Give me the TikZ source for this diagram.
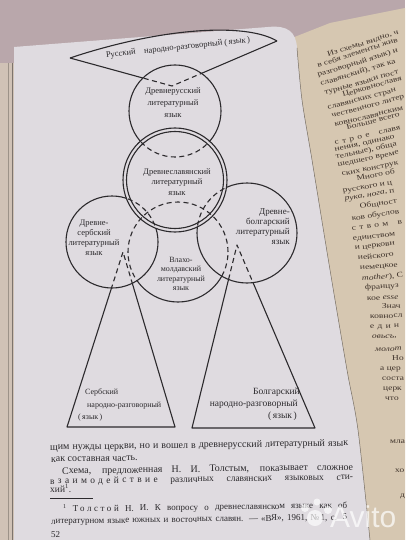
\documentclass[tikz,border=0pt]{standalone}
\usepackage{fontspec}
\setmainfont{Liberation Serif}
\newfontfamily\spaced[LetterSpace=35]{Liberation Serif}
\newfontfamily\spacednote[LetterSpace=28]{Liberation Serif}
\newfontfamily\logofont{Liberation Sans}
\usepackage{graphicx}
\usetikzlibrary{positioning}

\definecolor{fabric}{HTML}{B9A7AB}
\definecolor{leftpage}{HTML}{DFDBE0}
\definecolor{rightpage}{HTML}{D6C7B1}
\definecolor{stack}{HTML}{D0C2B6}
\definecolor{ink}{HTML}{2C2A2D}
\definecolor{warmink}{HTML}{3D3129}

% radii of the language circles
\newcommand{\rRus}{46}
\newcommand{\rSlOut}{52}
\newcommand{\rSlIn}{48.5}
\newcommand{\rSerb}{46}
\newcommand{\rBolg}{50}
\newcommand{\rVlah}{50}
% keep only what lies outside a circle (inside an even odd scope)
\newcommand{\cutaway}[2]{\clip (-20,20) rectangle (430,-560) (#1) circle (#2);}

\tikzset{
  solidline/.style={draw=ink, line width=1.1pt, line join=round},
  dashline/.style={solidline, dash pattern=on 5pt off 3.5pt},
  langname/.style={text=ink, font=\fontsize{8.5}{10.5}\selectfont, align=center, inner sep=0pt},
  textline/.style={text=ink, font=\fontsize{10}{12}\selectfont, anchor=base west, inner sep=0pt, rotate=0.8},
  noteline/.style={textline, font=\fontsize{9}{10}\selectfont},
  rightline/.style={text=warmink, font=\fontsize{9.5}{12}\selectfont, anchor=base west, inner sep=0pt}
}

\begin{document}
\begin{tikzpicture}[x=1pt, y=1pt]

    \useasboundingbox (0,0) rectangle (405,-540);

    % cloth, right page, left page
    \fill[fabric] (0,0) rectangle (405,-540);
    \fill[rightpage] (292,-38) -- (330,-23) -- (405,-8) -- (405,-540) -- (360,-540) -- cycle;
    \foreach \x/\y/\ang/\txt [count=\i] in {
        328/57/18/{Из схемы видно, ч},
        318/68/18/{в себя элементы жив},
        318/77/17/{разговорный язык) и},
        321/86/17/{славянский), так ка},
        325/95/16/{турные языки пост},
        343/97/16/{Церковнославя},
        328/110/15/{славянских стран},
        332/118/15/{чественного литер},
        335/127/14/{ковнославянским},
        347/130/14/{Больше всего},
        335/145/13/{{\spaced строе}\quad славя},
        335/152/13/{нения, одинако},
        336/159/12/{тельные), обща},
        338/167/12/{шедшего време},
        342/176/11/{ских конструк},
        357/181/11/{Много об},
        343/193/10/{русского и ц},
        345/201/10/{\textit{рука, нога,} п},
        360/209/9/{Общност},
        352/221/9/{ков обуслов},
        352/231/8/{{\spaced ством}\quad в},
        353/241/7/{единством},
        355/250/7/{и церковн},
        358/260/6/{нейского},
        360/270/5/{немецкое},
        362/281/5/{\textit{mother}), С},
        365/290/4/{француз},
        367/301/4/{кое \textit{esse}},
        382/309/3/{Знач},
        370/319/3/{ковносл},
        370/329/3/{{\spaced един}},
        372/339/3/{\textit{овьсъ,}},
        375/352/3/{\textit{молот}},
        392/361/2/{Но},
        380/371/2/{а цер},
        382/381/2/{соста},
        383/391/2/{церк},
        385/401/2/{что},
        390/444/2/{мла},
        395/473/2/{хо},
        400/498/2/{д}}
        \node[rightline, rotate=\ang] (rline\i) at (\x,-\y) {\scalebox{1}[0.78]{\txt}};
    \fill[leftpage] (14,-47) -- (268,-27) .. controls (288,-25) and (296,-32) .. (297,-48)
        -- plot[smooth] coordinates {(297,-48) (302,-100) (312,-160) (330,-270) (347,-370) (358,-430) (370,-540)}
        -- (14,-540) -- cycle;
    \draw[rightpage!55!black, line width=0.5pt] plot[smooth] coordinates {(297,-48) (302,-100) (312,-160) (330,-270) (347,-370) (358,-430) (370,-540)};
    \fill[stack] (0,-63) rectangle (14,-540);
    \draw[stack!75!black, line width=1pt] (8,-63) -- (8,-540);
    \draw[stack!60!black, line width=0.6pt] (12.5,-63) -- (12.5,-540);

    % centres of the language circles
    \coordinate (cRus) at (175,-111);
    \coordinate (cSl) at (175,-180);
    \coordinate (cSerb) at (112,-242);
    \coordinate (cBolg) at (247,-233);
    \coordinate (cVlah) at (178,-252);
    % corners of the wedge and of the two triangles
    \coordinate (wL) at (70,-58);
    \coordinate (wR) at (277,-41);
    \coordinate (wT) at (172,-86);
    \coordinate (sT) at (123,-252);
    \coordinate (sL) at (67,-427);
    \coordinate (sR) at (175,-427);
    \coordinate (bT) at (237,-245);
    \coordinate (bL) at (192,-428);
    \coordinate (bR) at (315,-428);

    % Russian vernacular
    \begin{scope}
        \clip (cRus) circle (\rRus);
        \draw[dashline] (wL) -- (wT) -- (wR);
    \end{scope}
    \begin{scope}[even odd rule]
        \cutaway{cRus}{\rRus}
        \draw[solidline] (wL) -- (wT) -- (wR);
    \end{scope}
    \draw[solidline] (wL) .. controls (160,-28) and (245,-22) .. (wR);

    % circles behind the Old Church Slavonic one
    \begin{scope}
        \clip (cSl) circle (\rSlOut);
        \draw[dashline] (cRus) circle (\rRus);
        \draw[dashline] (cSerb) circle (\rSerb);
        \draw[dashline] (cBolg) circle (\rBolg);
    \end{scope}
    \begin{scope}[even odd rule]
        \cutaway{cSl}{\rSlOut}
        \draw[solidline] (cRus) circle (\rRus);
        \draw[solidline] (cSerb) circle (\rSerb);
        \draw[solidline] (cBolg) circle (\rBolg);
    \end{scope}

    % Vlach-Moldavian circle
    \begin{scope}
        \clip (cSl) circle (\rSlOut) (cSerb) circle (\rSerb) (cBolg) circle (\rBolg);
        \draw[dashline] (cVlah) circle (\rVlah);
    \end{scope}
    \begin{scope}[even odd rule]
        \cutaway{cSl}{\rSlOut}
        \cutaway{cSerb}{\rSerb}
        \cutaway{cBolg}{\rBolg}
        \draw[solidline] (cVlah) circle (\rVlah);
    \end{scope}

    % Serbian and Bulgarian vernaculars
    \begin{scope}
        \clip (cSerb) circle (\rSerb) (cVlah) circle (\rVlah) (cBolg) circle (\rBolg);
        \draw[dashline] (sL) -- (sT) -- (sR);
        \draw[dashline] (bL) -- (bT) -- (bR);
    \end{scope}
    \begin{scope}[even odd rule]
        \cutaway{cSerb}{\rSerb}
        \cutaway{cVlah}{\rVlah}
        \cutaway{cBolg}{\rBolg}
        \draw[solidline] (sL) -- (sT) -- (sR) -- cycle;
        \draw[solidline] (bL) -- (bT) -- (bR) -- cycle;
    \end{scope}

    \draw[solidline] (cSl) circle (\rSlOut);
    \draw[solidline] (cSl) circle (\rSlIn);

    % names of the languages
    \node[langname, rotate=6] (rusVern) at (178,-48) {Русский\quad народно-разговорный (\,язык\,)};
    \node[langname, font=\fontsize{8.5}{12}\selectfont] (rusLit) at (173,-103) {Древнерусский\\литературный\\язык};
    \node[langname] (slLit) at (177,-182) {Древнеславянский\\литературный\\язык};
    \node[langname, font=\fontsize{8.5}{10}\selectfont] (serbLit) at (94,-238) {Древне-\\сербский\\литературный\\язык};
    \node[langname, align=right, anchor=east, font=\fontsize{9}{10}\selectfont] (bolgLit) at (290,-227) {Древне-\\болгарский\\литературный\\язык};
    \node[langname, font=\fontsize{8}{9.5}\selectfont] (vlahLit) at (181,-274) {Влахо-\\молдавский\\литературный\\язык};

    \node[langname, anchor=base west, font=\fontsize{8}{10}\selectfont] (serbA) at (85,-394) {Сербский};
    \node[langname, anchor=base west, font=\fontsize{8}{10}\selectfont] (serbB) at (87,-407) {народно-разговорный};
    \node[langname, anchor=base west, font=\fontsize{8}{10}\selectfont] (serbC) at (78,-419) {(\,язык\,)};
    \node[langname, anchor=base east, font=\fontsize{9.5}{10}\selectfont] (bolgA) at (300,-394) {Болгарский};
    \node[langname, anchor=base east, font=\fontsize{9.5}{10}\selectfont] (bolgB) at (298,-406) {народно-разговорный};
    \node[langname, anchor=base east, font=\fontsize{9.5}{10}\selectfont] (bolgC) at (297,-418) {(\,язык\,)};

    % running text and footnote
    \node[textline] (txt1) at (50,-450) {\makebox[298pt][s]{щим нужды церкви, но и вошел в древнерусский литературный язык}};
    \node[textline] (txt2) at (51,-462) {как составная часть.};
    \node[textline] (txt3) at (62,-474) {\makebox[291pt][s]{Схема, предложенная Н. И. Толстым, показывает сложное}};
    \node[textline, font=\fontsize{9.5}{10}\selectfont] (txt4) at (50,-484) {\makebox[303pt][s]{{\spaced взаимодействие} различных славянских языковых сти-}};
    \node[textline, font=\fontsize{9.5}{10}\selectfont] (txt5) at (50,-492.5) {хий\textsuperscript{1}.};
    \draw[ink, line width=0.6pt] (50,-498.5) -- (93,-498.5);
    \node[noteline] (note1) at (63,-512) {\makebox[284pt][s]{\textsuperscript{1} {\spacednote Толстой} Н. И. К вопросу о древнеславянском языке как об}};
    \node[noteline] (note2) at (51,-524) {\makebox[296pt][s]{литературном языке южных и восточных славян. — «ВЯ», 1961, №\,1, с. 5}};
    \node[noteline, rotate=-0.8] (pageNo) at (51,-537) {52};

    % watermark
    \fill[white, opacity=0.65] (315,-518) circle (8) (305,-508) circle (4) (317,-502) circle (3.5) (328,-510) circle (4);
    \node[white, opacity=0.7, font=\logofont\fontsize{30}{30}\selectfont, anchor=base west, inner sep=0pt] (avito) at (330,-527) {Avito};

\end{tikzpicture}
\end{document}
